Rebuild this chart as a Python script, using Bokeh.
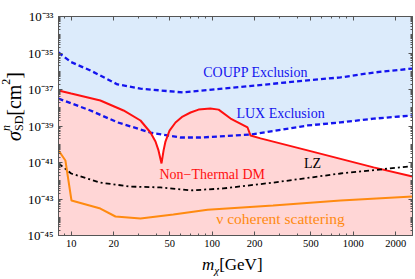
from bokeh.plotting import figure
from bokeh.models import Range1d, FixedTicker, LogAxis, CustomJSTickFormatter, Label, Div
from bokeh.layouts import column, row
from bokeh.embed import file_html
from bokeh.resources import INLINE

# ---------------- data ----------------
coupp_mass = [8.13, 10.0, 13.7, 21.3, 31.0, 61.7, 120.0, 475.0, 812.0, 1393.0, 2630.0]
coupp_sigma = [1.07e-35, 3.16e-36, 1.10e-36, 1.9e-37, 1.12e-37, 6.9e-38, 1.12e-37,
               3.16e-37, 4.6e-37, 8.5e-37, 1.41e-36]

lux_mass = [8.13, 13.7, 21.3, 36.5, 59.6, 82.6, 187.0, 475.0, 812.0, 1393.0, 2630.0]
lux_sigma = [3.16e-38, 7.08e-39, 1.58e-39, 4.37e-40, 2.34e-40, 2.34e-40, 3.39e-40,
             1.07e-39, 1.58e-39, 2.51e-39, 3.80e-39]

ntdm_mass = [8.13, 10.0, 16.1, 23.5, 31.0, 36.5, 39.6, 41.6, 43.7, 45.2, 46.6, 49.8,
             54.9, 61.6, 70.2, 80.0, 96.9, 111.0, 135.0, 178.0, 187.0, 220.0, 474.0,
             1393.0, 2630.0]
ntdm_sigma = [8.9e-38, 6.0e-38, 2.5e-38, 7.1e-39, 2.0e-39, 4.4e-40, 1.41e-40, 4.6e-41,
              8.9e-42, 4.6e-41, 1.41e-40, 5.6e-40, 1.55e-39, 3.3e-39, 5.5e-39, 7.9e-39,
              9.1e-39, 7.9e-39, 2.57e-39, 8.3e-40, 3.0e-40, 2.1e-40, 4.6e-41, 5.4e-42,
              1.7e-42]

lz_mass = [8.13, 10.0, 16.1, 26.3, 43.0, 70.2, 120.0, 270.0, 812.0, 2630.0]
lz_sigma = [8.9e-42, 2.5e-42, 7.9e-43, 4.8e-43, 4.3e-43, 2.95e-43, 3.8e-43, 7.9e-43,
            2.5e-42, 6.3e-42]

nu_mass = [8.13, 9.1, 10.05, 16.1, 20.6, 31.0, 53.0, 92.7, 270.0, 812.0, 2630.0]
nu_sigma = [4.6e-41, 1.29e-41, 8.3e-44, 3.0e-44, 1.1e-44, 8.5e-45, 1.41e-44, 2.6e-44,
            4.4e-44, 8.3e-44, 1.38e-43]

x_tick_values = [10, 20, 50, 100, 200, 500, 1000, 2000]
x_tick_labels = ["10", "20", "50", "100", "200", "500", "1000", "2000"]
y_tick_exponents = [-33, -35, -37, -39, -41, -43, -45]
y_tick_labels = ["10⁻³³", "10⁻³⁵", "10⁻³⁷", "10⁻³⁹", "10⁻⁴¹", "10⁻⁴³", "10⁻⁴⁵"]

region_labels = ["COUPP Exclusion", "LUX Exclusion", "Non−Thermal DM", "LZ",
                 "ν coherent scattering"]
region_label_mass = [203, 305, 100, 514, 305]
region_label_sigma = [8.5e-37, 4.8e-39, 2.2e-42, 8.9e-42, 8.5e-45]

# ---------------- styling ----------------
BLUE = "#1414ee"
RED = "#ff1010"
ORANGE = "#ff8a10"
FRAME = "#555555"
SERIF = "Liberation Serif"

p = figure(width=391, height=252, x_axis_type="log", y_axis_type="log",
           x_range=Range1d(8.13, 2630), y_range=Range1d(1e-45, 1e-33),
           output_backend="svg", toolbar_location=None,
           min_border_left=34, min_border_right=3, min_border_top=16,
           min_border_bottom=17)
p.xgrid.visible = False
p.ygrid.visible = False
p.outline_line_color = FRAME
p.background_fill_color = "white"
p.border_fill_color = "white"

bottom_axis = p.below[0]
left_axis = p.left[0]

# fills
p.varea(x=lux_mass, y1=lux_sigma, y2=[1e-33] * len(lux_mass), fill_color="#dcebfb")
p.varea(x=ntdm_mass, y1=[1e-45] * len(ntdm_mass), y2=ntdm_sigma, fill_color="#ffd6d6")

# curves
p.line(coupp_mass, coupp_sigma, line_color=BLUE, line_width=2.3, line_dash="5 3")
p.line(lux_mass, lux_sigma, line_color=BLUE, line_width=2.3, line_dash="5 3")
p.line(ntdm_mass, ntdm_sigma, line_color=RED, line_width=2.0)
p.line(lz_mass, lz_sigma, line_color="black", line_width=1.8, line_dash="5 3 2 3")
p.line(nu_mass, nu_sigma, line_color=ORANGE, line_width=2.0)

# region labels
label_colors = [BLUE, BLUE, RED, "black", ORANGE]
label_sizes = ["14px", "14px", "14px", "14px", "15.5px"]
for t, xm, ys, c, s in zip(region_labels, region_label_mass, region_label_sigma,
                           label_colors, label_sizes):
    p.add_layout(Label(x=xm, y=ys, text=t, text_color=c, text_font=SERIF,
                       text_font_size=s, text_align="center", text_baseline="middle"))

# ticks
y_tick_values = [10.0 ** e for e in y_tick_exponents]
y_minor = [k * 10.0 ** n for n in range(-45, -33) for k in range(1, 10)
           if not (k == 1 and n in y_tick_exponents)]
x_minor = [8, 9, 30, 40, 60, 70, 80, 90, 300, 400, 600, 700, 800, 900]

fmt_code = """
let best = 0, bd = Infinity;
for (let i = 0; i < vals.length; i++) {
  const d = Math.abs(Math.log10(tick) - Math.log10(vals[i]));
  if (d < bd) { bd = d; best = i; }
}
return bd < 0.01 ? labs[best] : "";
"""
x_fmt = CustomJSTickFormatter(args=dict(vals=x_tick_values, labs=x_tick_labels), code=fmt_code)
y_fmt = CustomJSTickFormatter(args=dict(vals=y_tick_values, labs=y_tick_labels), code=fmt_code)

xt = FixedTicker(ticks=x_tick_values, minor_ticks=x_minor)
yt = FixedTicker(ticks=y_tick_values, minor_ticks=y_minor)

top_axis = LogAxis(ticker=xt, formatter=CustomJSTickFormatter(code="return '';"))
right_axis = LogAxis(ticker=yt, formatter=CustomJSTickFormatter(code="return '';"))
p.add_layout(top_axis, "above")
p.add_layout(right_axis, "right")

bottom_axis.ticker = xt
bottom_axis.formatter = x_fmt
left_axis.ticker = yt
left_axis.formatter = y_fmt

for ax in [bottom_axis, left_axis, top_axis, right_axis]:
    ax.major_tick_in = 4
    ax.major_tick_out = 0
    ax.minor_tick_in = 2
    ax.minor_tick_out = 0
    ax.axis_line_color = FRAME
    ax.major_tick_line_color = FRAME
    ax.minor_tick_line_color = FRAME
    ax.major_label_text_font = SERIF
    ax.major_label_text_color = "black"

bottom_axis.major_label_text_font_size = "10.5px"
bottom_axis.major_label_standoff = 4
left_axis.major_label_text_font_size = "13px"
left_axis.major_label_standoff = 5
for ax in [top_axis, right_axis]:
    ax.major_label_text_font_size = "1px"
    ax.major_label_standoff = 0

# axis titles as HTML text (with real sub/superscripts)
ylab = Div(width=24, height=252, margin=0, text=(
    "<div style=\"margin:72px 0 0 4px; writing-mode:vertical-rl; transform:rotate(180deg);"
    " font-family:'Liberation Serif',serif; font-size:20px; line-height:20px;"
    " white-space:nowrap; color:#000;\">"
    "<i>σ</i><sup style=\"font-size:12px; line-height:0;\"><i>n</i></sup>"
    "<sub style=\"font-size:12px; line-height:0; margin-inline-start:-6px;\">SD</sub>"
    "[cm<sup style=\"font-size:12px; line-height:0;\">2</sup>]</div>"))
xlab = Div(width=415, height=27, margin=0, text=(
    "<div style=\"padding:3px 0 0 202px; font-family:'Liberation Serif',serif;"
    " font-size:17px; line-height:20px; white-space:nowrap; color:#000;\">"
    "<i>m</i><sub style=\"font-size:11px; line-height:0;\"><i>χ</i></sub>[GeV]</div>"))

layout = column(row(ylab, p, spacing=0), xlab, spacing=0)

open("out.html", "w").write(file_html(layout, INLINE))
